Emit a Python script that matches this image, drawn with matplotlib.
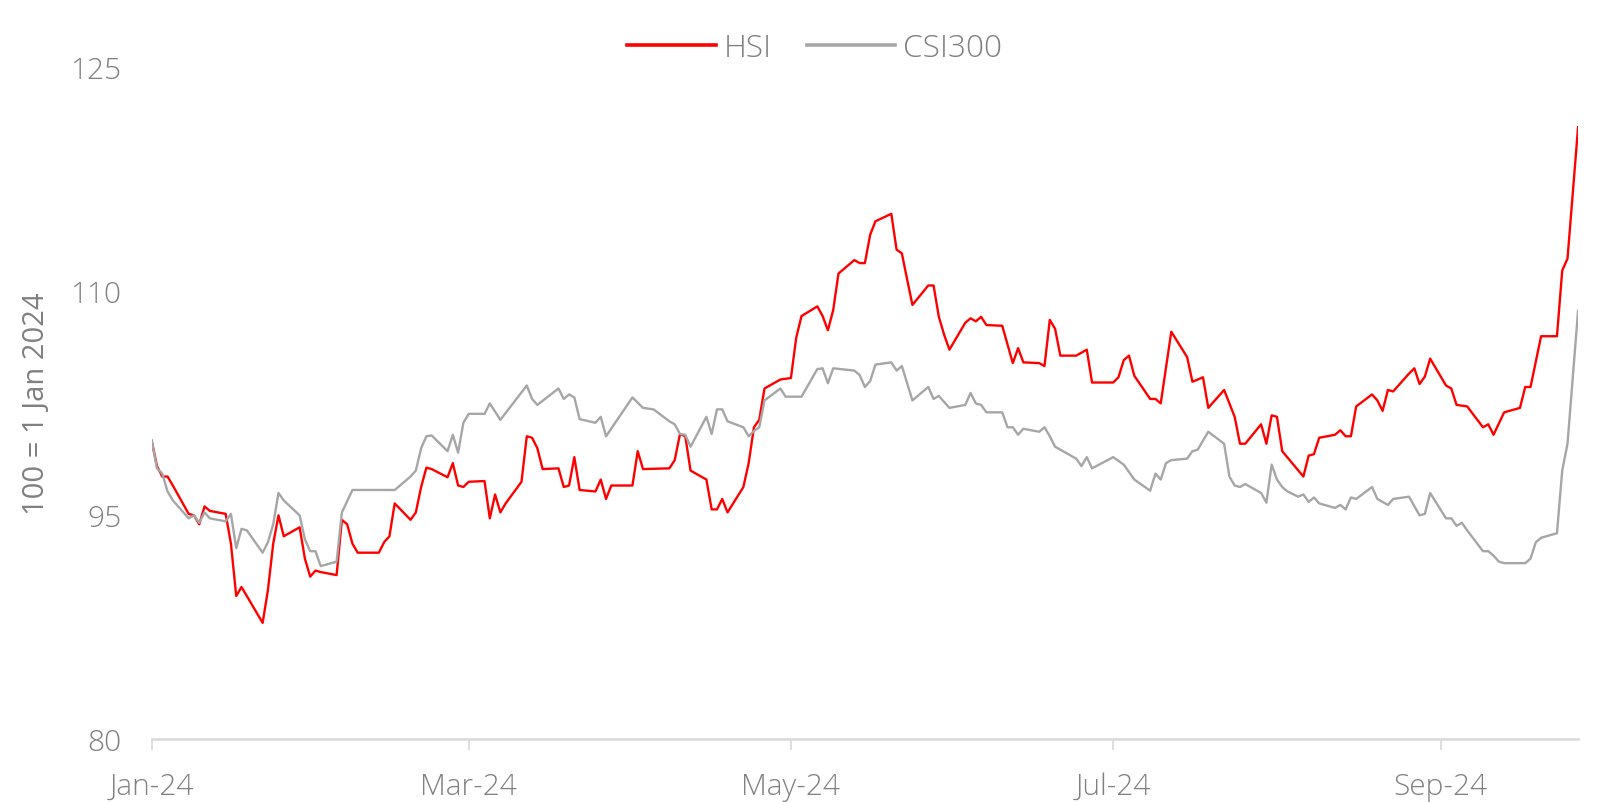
import matplotlib
matplotlib.use("Agg")
import matplotlib.pyplot as plt
import matplotlib.dates as mdates
import pandas as pd

# days since 1 Jan 2024, index level (100 = 1 Jan 2024)
hsi_days = [0, 1, 2, 3, 4, 7, 8, 9, 10, 11, 14, 15, 16, 17, 21, 22, 23, 24, 25,
            28, 29, 30, 31, 32, 35, 36, 37, 38, 39, 43, 44, 45, 46, 49, 50, 51,
            52, 53, 56, 57, 58, 59, 60, 63, 64, 65, 66, 67, 70, 71, 72, 73, 74,
            77, 78, 79, 80, 81, 84, 85, 86, 87, 91, 92, 93, 98, 99, 100, 101,
            102, 105, 106, 107, 108, 109, 112, 113, 114, 115, 116, 119, 121,
            122, 123, 126, 127, 128, 129, 130, 133, 134, 135, 136, 137, 140,
            141, 142, 143, 144, 147, 148, 149, 150, 151, 154, 155, 156, 157,
            158, 161, 163, 164, 165, 168, 169, 170, 171, 172, 175, 177, 178,
            182, 183, 184, 185, 186, 189, 190, 191, 193, 196, 197, 199, 200,
            203, 205, 206, 207, 210, 211, 212, 213, 214, 218, 219, 220, 221,
            224, 225, 226, 227, 228, 231, 232, 233, 234, 235, 238, 239, 240,
            241, 242, 245, 246, 247, 249, 252, 253, 254, 256, 259, 260, 261,
            263, 266, 267, 268, 270]
hsi_vals = [100.0, 98.3, 97.6, 97.6, 97.0, 95.1, 95.0, 94.4, 95.6, 95.3, 95.1,
            93.1, 89.6, 90.2, 87.8, 90.0, 93.1, 95.0, 93.6, 94.2, 92.1, 90.9,
            91.3, 91.2, 91.0, 94.7, 94.4, 93.1, 92.5, 92.5, 93.2, 93.6, 95.8,
            94.7, 95.2, 96.9, 98.2, 98.1, 97.55, 98.5, 97.0, 96.9, 97.25, 97.3,
            94.8, 96.4, 95.2, 95.8, 97.25, 100.3, 100.2, 99.5, 98.1, 98.15,
            96.9, 97.0, 98.9, 96.7, 96.6, 97.4, 96.1, 97.0, 97.0, 99.3, 98.1,
            98.15, 98.7, 100.45, 100.3, 98.0, 97.4, 95.4, 95.4, 96.1, 95.2,
            96.9, 98.5, 100.9, 101.4, 103.5, 104.1, 104.2, 106.9, 108.35,
            109.0, 108.35, 107.4, 108.75, 111.2, 112.1, 111.9, 111.9, 113.8,
            114.7, 115.2, 112.8, 112.55, 110.8, 109.1, 110.4, 110.4, 108.3,
            107.1, 106.1, 107.9, 108.2, 108.0, 108.3, 107.75, 107.7, 105.2,
            106.2, 105.25, 105.2, 105.0, 108.1, 107.5, 105.7, 105.7, 106.1,
            103.9, 103.9, 104.25, 105.4, 105.7, 104.35, 102.8, 102.8, 102.5,
            107.3, 105.6, 103.95, 104.25, 102.2, 103.4, 101.6, 99.8, 99.8,
            101.1, 99.8, 101.7, 101.6, 99.3, 97.6, 99.0, 99.1, 100.2, 100.4,
            100.7, 100.3, 100.3, 102.3, 103.1, 102.7, 102.0, 103.4, 103.3,
            104.5, 104.85, 103.8, 104.3, 105.5, 103.7, 103.5, 102.4, 102.3,
            100.9, 101.1, 100.4, 101.9, 102.2, 103.6, 103.6, 107.0, 107.0,
            111.4, 112.2, 121.0]

csi_days = [0, 1, 2, 3, 4, 7, 8, 9, 10, 11, 14, 15, 16, 17, 18, 21, 22, 23, 24,
            25, 28, 29, 30, 31, 32, 35, 36, 38, 46, 49, 50, 51, 52, 53, 56, 57,
            58, 59, 60, 63, 64, 66, 71, 72, 73, 77, 78, 79, 80, 81, 84, 85, 86,
            91, 93, 95, 98, 99, 100, 101, 102, 105, 106, 107, 108, 109, 112,
            113, 114, 115, 116, 119, 120, 123, 126, 127, 128, 129, 133, 134,
            135, 136, 137, 140, 141, 142, 144, 147, 148, 149, 151, 154, 155,
            156, 157, 158, 161, 162, 163, 164, 165, 168, 169, 170, 171, 175,
            176, 177, 178, 182, 184, 186, 189, 190, 191, 192, 193, 196, 197,
            198, 200, 203, 204, 205, 206, 207, 210, 211, 212, 213, 214, 215,
            217, 218, 219, 220, 221, 224, 225, 226, 227, 228, 231, 232, 234,
            235, 238, 240, 241, 242, 245, 246, 247, 248, 249, 252, 253, 254,
            255, 256, 260, 261, 262, 263, 266, 267, 268, 270]
csi_vals = [100.0, 98.15, 97.8, 96.6, 96.0, 94.8, 95.0, 94.5, 95.2, 94.8, 94.6,
            95.1, 92.8, 94.1, 94.0, 92.5, 93.2, 94.4, 96.5, 96.0, 95.0, 93.4,
            92.6, 92.6, 91.6, 91.9, 95.2, 96.7, 96.7, 97.6, 98.0, 99.5, 100.3,
            100.35, 99.3, 100.4, 99.2, 101.2, 101.8, 101.8, 102.5, 101.4, 103.7,
            102.8, 102.4, 103.5, 102.8, 103.1, 102.9, 101.45, 101.2, 101.6,
            100.3, 102.9, 102.2, 102.1, 101.3, 101.1, 100.45, 100.4, 99.6,
            101.6, 100.45, 102.1, 102.1, 101.3, 100.9, 100.3, 100.65, 100.9,
            102.7, 103.5, 102.95, 102.95, 104.8, 104.85, 103.85, 104.85, 104.7,
            104.4, 103.6, 104.0, 105.1, 105.25, 104.7, 105.0, 102.7, 103.6,
            102.8, 103.0, 102.2, 102.4, 103.2, 102.5, 102.4, 101.9, 101.9,
            100.9, 100.9, 100.4, 100.8, 100.6, 100.9, 100.3, 99.6, 98.8, 98.3,
            98.9, 98.15, 98.9, 98.4, 97.4, 96.65, 97.8, 97.4, 98.5, 98.7, 98.8,
            99.3, 99.4, 100.6, 99.8, 97.6, 97.0, 96.9, 97.1, 96.5, 95.85, 98.4,
            97.4, 96.9, 96.6, 96.25, 96.4, 95.9, 96.2, 95.8, 95.5, 95.7, 95.4,
            96.2, 96.1, 96.9, 96.1, 95.7, 96.1, 96.25, 95.0, 95.1, 96.5, 94.8,
            94.8, 94.3, 94.5, 94.0, 92.6, 92.6, 92.3, 91.9, 91.8, 91.8, 92.1,
            93.2, 93.5, 93.8, 98.0, 99.8, 108.7]

y_ticks = [80, 95, 110, 125]
tick_months = [1, 3, 5, 7, 9]

TEXT = "#808080"
FONT = ["Open Sans", "DejaVu Sans"]


def to_dates(days):
    """day offsets -> timestamps"""
    return pd.Timestamp("2024-01-01") + pd.to_timedelta(days, unit="D")


def main():
    plt.rcParams["font.family"] = FONT
    plt.rcParams["font.weight"] = "light"
    fig = plt.figure(figsize=(16.07, 8.02), dpi=100)
    ax = fig.add_axes([0.0944, 0.0782, 0.8876, 0.8376])

    ax.plot(to_dates(hsi_days), hsi_vals, color="#ff0000", lw=1.7, label="HSI")
    ax.plot(to_dates(csi_days), csi_vals, color="#a6a6a6", lw=1.7,
            label="CSI300")

    ax.set_xlim(pd.Timestamp("2024-01-01"), pd.Timestamp("2024-09-27"))
    ax.set_ylim(80, 125)
    ax.set_yticks(y_ticks)
    ax.xaxis.set_major_locator(mdates.MonthLocator(bymonth=tick_months))
    ax.xaxis.set_major_formatter(mdates.DateFormatter("%b-%y"))

    for s in ["top", "right", "left"]:
        ax.spines[s].set_visible(False)
    ax.spines["bottom"].set_color("#d9d9d9")
    ax.spines["bottom"].set_linewidth(1.8)
    ax.tick_params(axis="x", colors="#d9d9d9", length=8, width=1.2,
                   labelcolor=TEXT, labelsize=21.5, pad=16)
    ax.tick_params(axis="y", length=0, labelcolor=TEXT, labelsize=21.5,
                   pad=22)
    ax.set_ylabel("100 = 1 Jan 2024", color=TEXT, fontsize=21, labelpad=14)

    leg = fig.legend(loc="upper center", bbox_to_anchor=(0.507, 0.995),
                     ncol=2, frameon=False, fontsize=22.8, handlelength=2.8,
                     handletextpad=0.25, columnspacing=1.1, labelcolor=TEXT)
    for line in leg.get_lines():
        line.set_linewidth(2.6)

    fig.savefig("out.png", dpi=100)


if __name__ == "__main__":
    main()
